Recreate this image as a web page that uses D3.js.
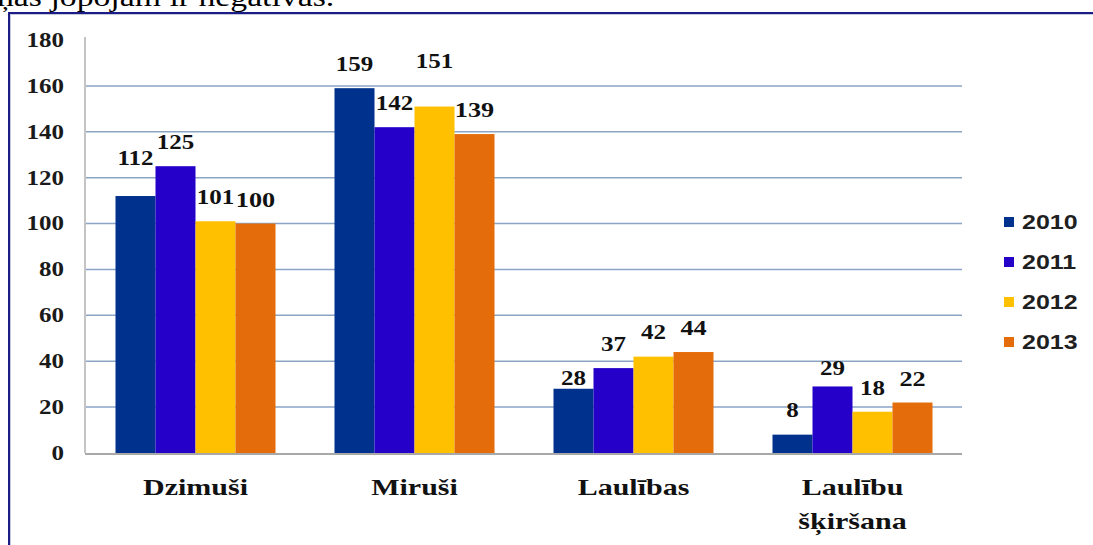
<!DOCTYPE html>
<html>
<head>
<meta charset="utf-8">
<script src="https://cdn.jsdelivr.net/npm/d3@7"></script>
<style>
    body { margin: 0; background: #fff; overflow: hidden; }
    svg { display: block; }
</style>
</head>
<body>
<div id="chart"></div>
<script>
// chart data
var categories = ['Dzimuši', 'Miruši', 'Laulības', 'Laulību\nšķiršana'];
var years = ['2010', '2011', '2012', '2013'];
var values2010 = [112, 159, 28, 8];
var values2011 = [125, 142, 37, 29];
var values2012 = [101, 151, 42, 18];
var values2013 = [100, 139, 44, 22];
var yTicks = [0, 20, 40, 60, 80, 100, 120, 140, 160, 180];

var seriesValues = [values2010, values2011, values2012, values2013];
var colors = ['#00318c', '#2500c9', '#ffc000', '#e46c0a'];

// a few labels in the original sit higher / lower than the rest
var labelLift = { '0|0': 14, '1|2': 21, '2|0': -13, '3|1': -6 };

// the source picture is stretched sideways, so text is widened a bit
var stretch = 1.25;

var width = 1093,
    height = 545,
    plot = { left: 86, right: 962, top: 40, bottom: 453 },
    serif = '"Liberation Serif", "Times New Roman", serif';

var svg = d3.select('#chart').append('svg')
    .attr('width', width)
    .attr('height', height);

// clipped sentence above the frame
svg.append('text')
    .attr('transform', 'translate(-3,6) scale(' + stretch + ',1)')
    .style('font-family', serif)
    .style('font-size', '27px')
    .style('fill', '#000')
    .text('ņas jopojām ir negatīvas.');

// frame
svg.append('rect')
    .attr('x', 10)
    .attr('y', 14)
    .attr('width', width + 20)
    .attr('height', height + 20)
    .style('fill', 'none')
    .style('stroke', '#c5c9e0')
    .style('stroke-width', 2);
svg.append('rect')
    .attr('x', 9)
    .attr('y', 13)
    .attr('width', width + 20)
    .attr('height', height + 20)
    .style('fill', 'none')
    .style('stroke', '#1c1c86')
    .style('stroke-width', 2);

var yScale = d3.scaleLinear()
    .domain([0, 180])
    .range([plot.bottom, plot.top]);

var x0 = d3.scaleBand()
    .domain(d3.range(categories.length))
    .range([plot.left, plot.right])
    .padding(0);

var x1 = d3.scaleBand()
    .domain(d3.range(years.length))
    .range([0, x0.bandwidth()])
    .paddingInner(0)
    .paddingOuter(0.7375);

// grid lines
svg.append('g')
    .selectAll('line')
    .data(yTicks.filter(function(t) { return t > 0 && t < 180; }))
    .enter().append('line')
        .attr('x1', plot.left)
        .attr('x2', plot.right)
        .attr('y1', function(d) { return yScale(d); })
        .attr('y2', function(d) { return yScale(d); })
        .style('stroke', '#8ba5c6')
        .style('stroke-width', 1.5);

// y axis
var yAxis = d3.axisLeft(yScale)
    .tickValues(yTicks)
    .tickSize(0)
    .tickPadding(22);

var yGuide = svg.append('g')
    .attr('transform', 'translate(' + plot.left + ',0)')
    .call(yAxis);
yGuide.select('.domain').remove();
yGuide.selectAll('text')
    .attr('x', -22 / stretch)
    .attr('transform', 'scale(' + stretch + ',1)')
    .style('font-family', serif)
    .style('font-weight', 'bold')
    .style('font-size', '20px')
    .style('fill', '#1a1a1a');

svg.append('line')
    .attr('x1', plot.left - 1)
    .attr('x2', plot.left - 1)
    .attr('y1', plot.top - 3)
    .attr('y2', plot.bottom)
    .style('stroke', '#b0b0b0')
    .style('stroke-width', 1.5);

// bars
var groups = svg.append('g')
    .selectAll('g')
    .data(categories)
    .enter().append('g')
        .attr('transform', function(d, i) { return 'translate(' + x0(i) + ',0)'; });

function cells(d, ci) {
    return years.map(function(y, si) { return { ci: ci, si: si, v: seriesValues[si][ci] }; });
}

groups.selectAll('rect')
    .data(cells)
    .enter().append('rect')
        .attr('x', function(d) { return x1(d.si); })
        .attr('width', x1.bandwidth())
        .attr('y', function(d) { return yScale(d.v); })
        .attr('height', function(d) { return plot.bottom - yScale(d.v); })
        .style('fill', function(d) { return colors[d.si]; });

// value labels
groups.selectAll('text')
    .data(cells)
    .enter().append('text')
        .attr('transform', function(d) {
            var lift = labelLift[d.ci + '|' + d.si] || 0;
            var cx = x1(d.si) + x1.bandwidth() / 2;
            var cy = yScale(d.v) - 24 - lift;
            return 'translate(' + cx + ',' + cy + ') scale(' + stretch + ',1)';
        })
        .attr('dy', '0.34em')
        .attr('text-anchor', 'middle')
        .style('font-family', serif)
        .style('font-weight', 'bold')
        .style('font-size', function(d) { return d.si === 3 ? '21px' : '20px'; })
        .style('fill', '#111')
        .text(function(d) { return d.v; });

// x axis line
svg.append('line')
    .attr('x1', plot.left - 1)
    .attr('x2', plot.right)
    .attr('y1', plot.bottom + 1)
    .attr('y2', plot.bottom + 1)
    .style('stroke', '#a8a8a8')
    .style('stroke-width', 2);

// category labels
svg.append('g')
    .selectAll('text')
    .data(categories)
    .enter().append('text')
        .attr('transform', function(d, i) {
            return 'translate(' + (x0(i) + x0.bandwidth() / 2) + ',495) scale(' + stretch + ',1)';
        })
        .attr('text-anchor', 'middle')
        .style('font-family', serif)
        .style('font-weight', 'bold')
        .style('font-size', '24px')
        .style('fill', '#111')
        .each(function(d) {
            var el = d3.select(this);
            d.split('\n').forEach(function(line, k) {
                el.append('tspan')
                    .attr('x', 0)
                    .attr('dy', k === 0 ? 0 : 34)
                    .text(line);
            });
        });

// legend
var legend = svg.append('g')
    .selectAll('g')
    .data(years)
    .enter().append('g')
        .attr('transform', function(d, i) { return 'translate(1004,' + (222 + i * 40) + ')'; });

legend.append('rect')
    .attr('x', 0)
    .attr('y', -5)
    .attr('width', 10)
    .attr('height', 10)
    .style('fill', function(d, i) { return colors[i]; });

legend.append('text')
    .attr('transform', 'translate(18,0) scale(' + stretch + ',1)')
    .attr('dy', '0.36em')
    .style('font-family', '"Liberation Sans", Arial, sans-serif')
    .style('font-weight', 'bold')
    .style('font-size', '20px')
    .style('fill', '#1f1f1f')
    .text(function(d) { return d; });
</script>
</body>
</html>
